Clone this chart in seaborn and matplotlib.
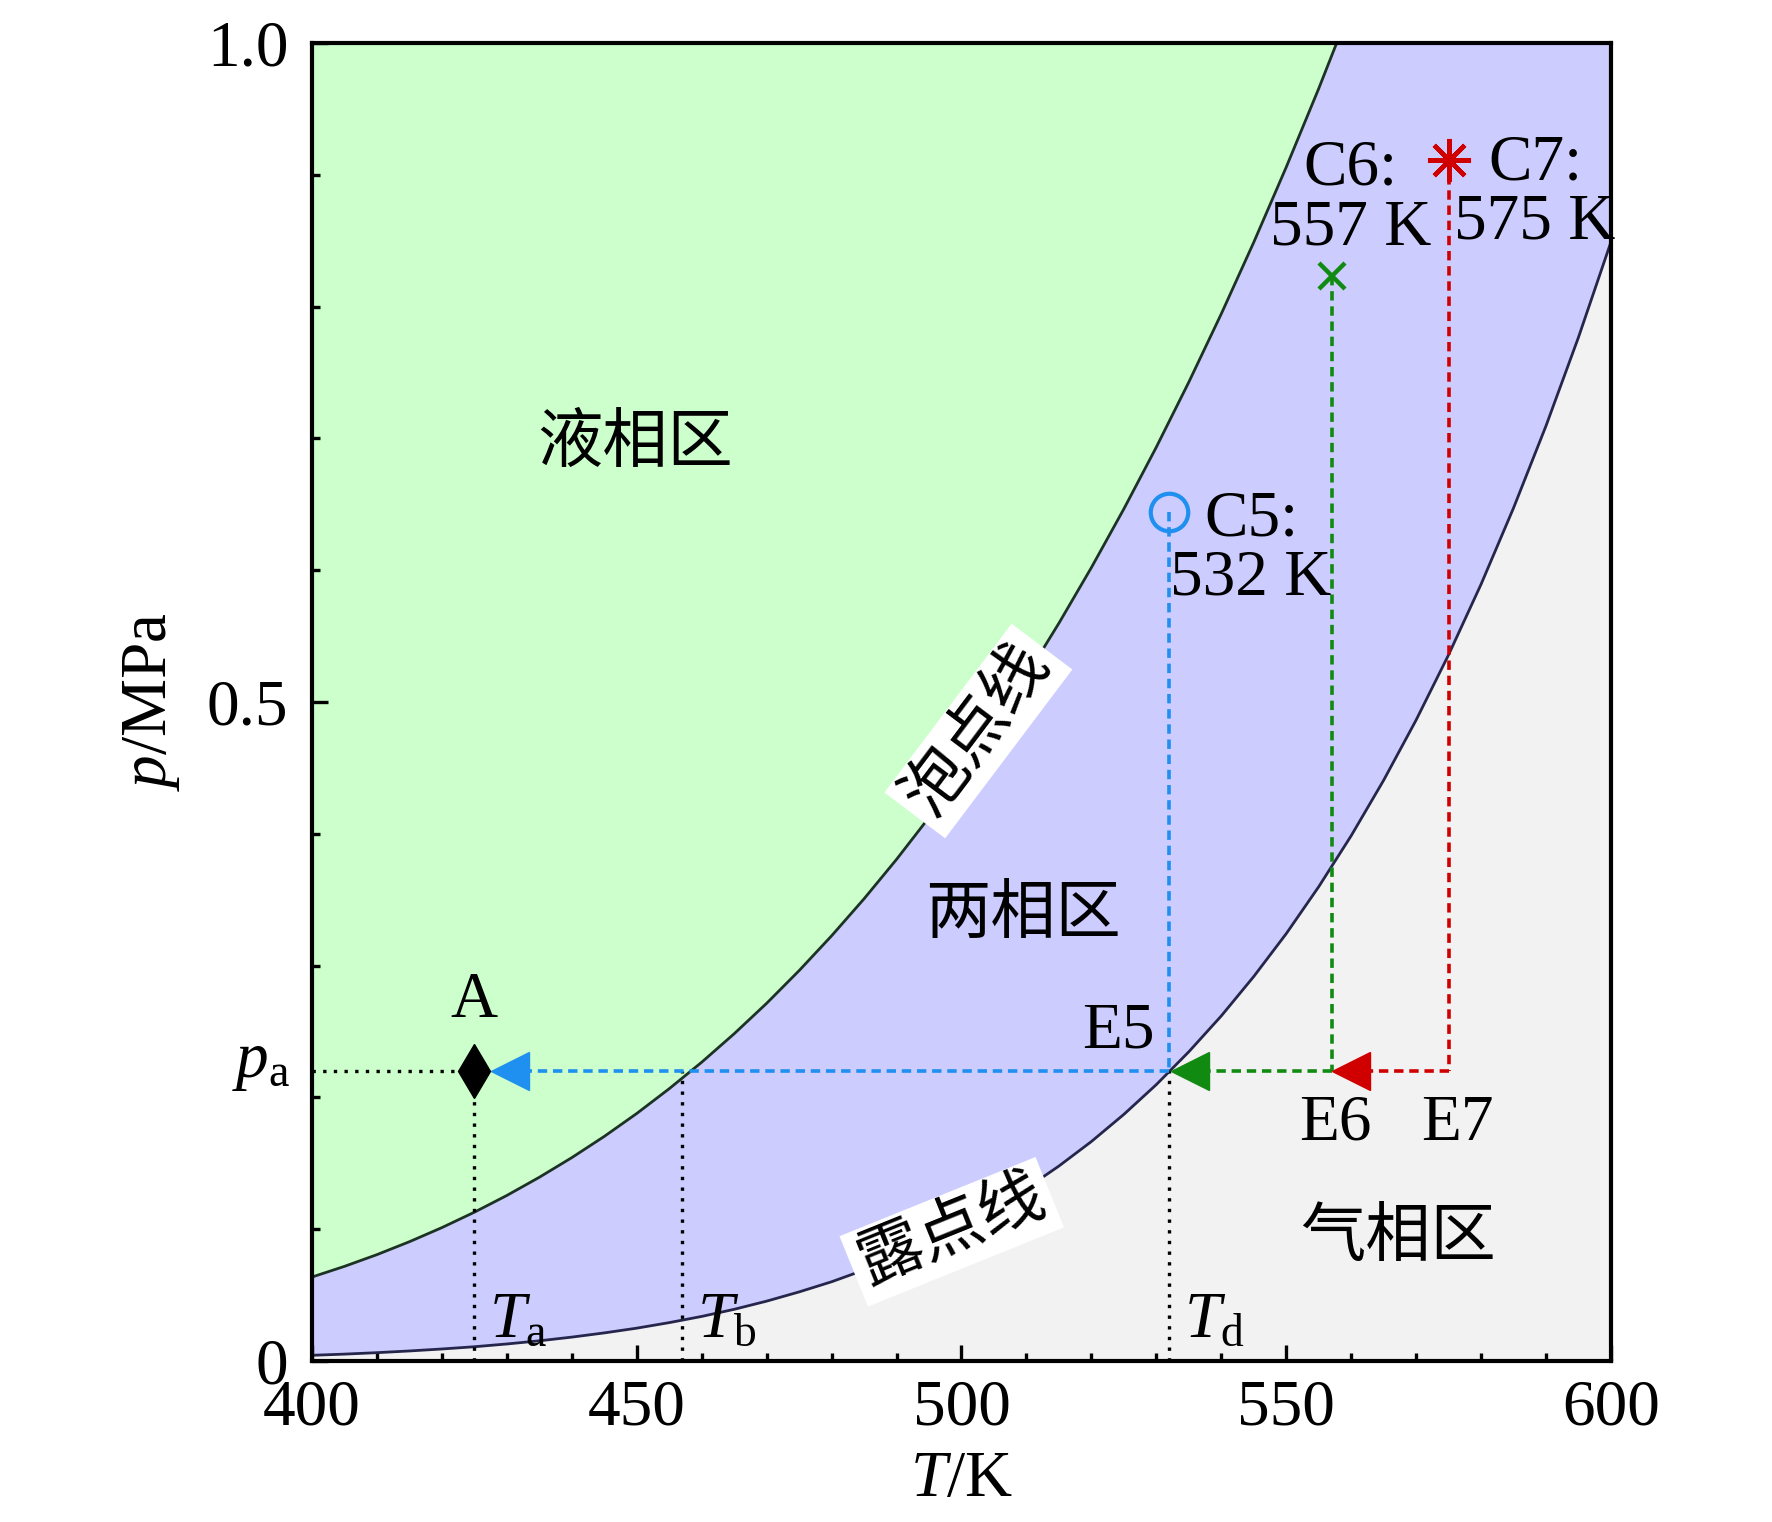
import numpy as np
import pandas as pd
import seaborn as sns
import matplotlib.pyplot as plt
from matplotlib.transforms import blended_transform_factory

# Data (T in K, p in MPa)
bubble_T = [400, 405, 410, 415, 420, 425, 430, 435, 440, 445, 450, 455, 460, 465, 470, 475,
            480, 485, 490, 495, 500, 505, 510, 515, 520, 525, 530, 535, 540, 545, 550, 555, 560]
bubble_p = [0.0637, 0.0718, 0.0807, 0.0905, 0.1012, 0.1129, 0.1256, 0.1394, 0.1543, 0.1704,
            0.1878, 0.2066, 0.2267, 0.2483, 0.2714, 0.2962, 0.3226, 0.3507, 0.3806, 0.4124,
            0.4462, 0.4820, 0.5198, 0.5598, 0.6020, 0.6465, 0.6934, 0.7427, 0.7945, 0.8488,
            0.9058, 0.9654, 1.0279]

dew_T = [400, 405, 410, 415, 420, 425, 430, 435, 440, 445, 450, 455, 460, 465, 470, 475,
         480, 485, 490, 495, 500, 505, 510, 515, 520, 525, 530, 535, 540, 545, 550, 555,
         560, 565, 570, 575, 580, 585, 590, 595, 600]
dew_p = [0.0043, 0.0052, 0.0063, 0.0076, 0.0091, 0.0108, 0.0129, 0.0153, 0.0181, 0.0213,
         0.0249, 0.0291, 0.0338, 0.0392, 0.0454, 0.0524, 0.0601, 0.0690, 0.0788, 0.0898,
         0.1021, 0.1158, 0.1310, 0.1479, 0.1665, 0.1871, 0.2097, 0.2346, 0.2618, 0.2917,
         0.3242, 0.3598, 0.3985, 0.4406, 0.4863, 0.5358, 0.5893, 0.6472, 0.7095, 0.7767, 0.849]

p_a = 0.22
T_a, T_b, T_d = 425, 457, 532

case_names = ['C5', 'C6', 'C7']
case_T = [532, 557, 575]
case_p = [0.644, 0.823, 0.911]
end_names = ['E5', 'E6', 'E7']
arrow_T = [430.5, 535.2, 560.0]

case_colors = ['#1f8ff0', '#118a11', '#d00000']

sns.set_theme(style='ticks')
plt.rcParams['font.family'] = ['Liberation Serif', 'Noto Sans CJK SC']
plt.rcParams['mathtext.fontset'] = 'custom'
plt.rcParams['mathtext.rm'] = 'Liberation Serif'
plt.rcParams['mathtext.it'] = 'Liberation Serif:italic'
plt.rcParams['font.size'] = 47
plt.rcParams['text.color'] = 'black'
plt.rcParams['axes.labelcolor'] = 'black'

fig = plt.figure(figsize=(17.72, 15.22), dpi=100)
ax = fig.add_axes([0.1761, 0.1058, 0.7330, 0.8659])

# phase regions
ax.set_facecolor('#ccccff')
ax.fill_between(bubble_T, bubble_p, 1.1, color='#ccffcc', lw=0, zorder=0)
ax.fill_between(dew_T, 0, dew_p, color='#f2f2f2', lw=0, zorder=0)

curves = pd.DataFrame({'T': bubble_T + dew_T,
                       'p': bubble_p + dew_p,
                       'curve': ['bubble'] * len(bubble_T) + ['dew'] * len(dew_T)})
sns.lineplot(data=curves, x='T', y='p', hue='curve',
             palette={'bubble': '#1c3324', 'dew': '#26264d'},
             lw=2.0, legend=False, ax=ax, zorder=2)

# black dotted guides
dot = dict(color='black', lw=2.4, ls=(0, (1, 2.2)), zorder=3)
ax.plot([400, T_a], [p_a, p_a], **dot)
ax.plot([T_a, T_a], [0, p_a], **dot)
ax.plot([T_b, T_b], [0, p_a], **dot)
ax.plot([T_d, T_d], [0, p_a], **dot)

# cooling paths C -> E
for i in range(3):
    c = case_colors[i]
    dash = dict(color=c, lw=2.6, ls=(0, (2.6, 1.6)), zorder=3)
    ax.plot([case_T[i], case_T[i]], [case_p[i], p_a], **dash)
    ax.plot([case_T[i], arrow_T[i]], [p_a, p_a], **dash)
    ax.plot(arrow_T[i], p_a, marker='<', ms=28, color=c, mec=c, zorder=5)

ax.plot(case_T[0], case_p[0], marker='o', ms=27, mfc='none', mec=case_colors[0], mew=3.0, zorder=6)
ax.plot(case_T[1], case_p[1], marker='x', ms=19, color=case_colors[1], mew=3.2, zorder=6)
ax.plot(case_T[2], case_p[2], marker=(8, 2, 0), ms=31, color=case_colors[2], mew=3.2, zorder=6)
ax.plot(T_a, p_a, marker='d', ms=28, color='black', zorder=6)

# text labels
ax.text(449.8, 0.694, '液相区', ha='center', va='center')
ax.text(509.4, 0.337, '两相区', ha='center', va='center')
ax.text(567.2, 0.092, '气相区', ha='center', va='center')
box = dict(boxstyle='square,pad=0.12', fc='white', ec='none')
ax.text(502.6, 0.478, '泡点线', ha='center', va='center', rotation=53,
        rotation_mode='anchor', bbox=box, zorder=4)
ax.text(498.5, 0.098, '露点线', ha='center', va='center', rotation=22,
        rotation_mode='anchor', bbox=box, zorder=4)

ax.text(424.9, 0.273, 'A', ha='center', va='center')
ax.text(524.2, 0.250, end_names[0], ha='center', va='center')
ax.text(557.5, 0.180, end_names[1], ha='center', va='center')
ax.text(576.3, 0.180, end_names[2], ha='center', va='center')

ax.text(544.6, 0.616, case_names[0] + ':\n532 K', ha='center', va='center', linespacing=1.0)
ax.text(559.9, 0.882, case_names[1] + ':\n557 K', ha='center', va='center', linespacing=1.0)
ax.text(588.3, 0.886, case_names[2] + ':\n575 K', ha='center', va='center', linespacing=1.0)

for T0, sub in [(T_a, 'a'), (T_b, 'b'), (T_d, 'd')]:
    ax.text(T0 + 2.3, 0.03, r'$T_\mathrm{%s}$' % sub, ha='left', va='center')

trans = blended_transform_factory(ax.transAxes, ax.transData)
ax.text(-0.017, p_a + 0.006, r'$p_\mathrm{a}$', transform=trans, ha='right', va='center')

# axes
ax.set_xlim(400, 600)
ax.set_ylim(0, 1.0)
ax.set_xticks([400, 450, 500, 550, 600])
ax.set_xticks(np.arange(410, 600, 10), minor=True)
ax.set_yticks([0, 0.5, 1.0])
ax.set_yticklabels(['0', '0.5', '1.0'])
ax.set_yticks(np.arange(0.1, 1.0, 0.1), minor=True)
ax.tick_params(axis='both', which='both', direction='in', top=False, right=False,
               width=2.4, color='black', labelsize=47, labelcolor='black')
ax.tick_params(which='major', length=11.5)
ax.tick_params(which='minor', length=6)
ax.tick_params(axis='x', pad=13)
ax.tick_params(axis='y', pad=17)
for s in ax.spines.values():
    s.set_linewidth(3.0)
    s.set_color('black')

ax.set_xlabel('$T$/K', fontsize=47)
ax.set_ylabel('$p$/MPa', fontsize=47)
ax.xaxis.set_label_coords(0.5, -0.068)
ax.yaxis.set_label_coords(-0.100, 0.5)
ax.grid(False)

fig.savefig('out.png', dpi=100)
